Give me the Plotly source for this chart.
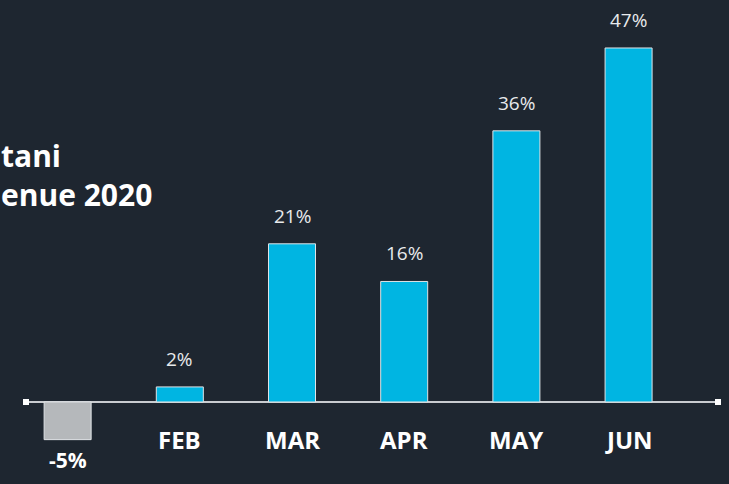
import plotly.graph_objects as go

months = ["JAN", "FEB", "MAR", "APR", "MAY", "JUN"]
growth = [-5, 2, 21, 16, 36, 47]
title_lines = ["tani", "enue 2020"]

BG = "#1e2630"
POS = "#00b5e2"
NEG = "#b5b8bb"
FONT = "Open Sans"

colors = [NEG if v < 0 else POS for v in growth]

fig = go.Figure()
fig.add_trace(go.Bar(
    x=months, y=growth,
    marker=dict(color=colors, line=dict(color="#dfe3e6", width=1)),
    hoverinfo="skip",
))

annotations = []
for m, v in zip(months, growth):
    if v >= 0:
        annotations.append(dict(x=m, y=v, xref="x", yref="y", text=f"{v}%",
                                showarrow=False, yanchor="middle", yshift=28,
                                font=dict(family=FONT, size=19, color="#e8eaec")))
        annotations.append(dict(x=m, y=0, xref="x", yref="y", text=f"<b>{m}</b>",
                                showarrow=False, yanchor="middle", yshift=-38,
                                font=dict(family=FONT, size=24, color="#ffffff")))
    else:
        annotations.append(dict(x=m, y=v, xref="x", yref="y", text=f"<b>{v}%</b>",
                                showarrow=False, yanchor="middle", yshift=-20,
                                font=dict(family=FONT, size=21, color="#ffffff")))

annotations.append(dict(
    xref="paper", yref="paper", x=-26 / 692, y=0.638, xanchor="left", yanchor="middle",
    xshift=-1, align="left", showarrow=False,
    text="<b>" + "<br>".join(title_lines) + "</b>",
    font=dict(family=FONT, size=30, color="#ffffff"),
))

shapes = []
for px in (0, 1):
    shapes.append(dict(type="rect", xref="paper", yref="y", xsizemode="pixel",
                       ysizemode="pixel", xanchor=px, yanchor=0,
                       x0=-3, x1=3, y0=-3, y1=3,
                       fillcolor="#ffffff", line=dict(width=0)))

fig.update_layout(
    width=729, height=484,
    paper_bgcolor=BG, plot_bgcolor=BG,
    margin=dict(l=26, r=11, t=0, b=0),
    bargap=0.581,
    showlegend=False,
    annotations=annotations,
    shapes=shapes,
    xaxis=dict(range=[-0.371, 5.797], showticklabels=False, showgrid=False,
               zeroline=False, showline=False, fixedrange=True),
    yaxis=dict(range=[-10.89, 53.37], showticklabels=False, showgrid=False,
               zeroline=True, zerolinecolor="#c9ccd0", zerolinewidth=2,
               showline=False, fixedrange=True),
)

fig.write_html("out.html", config={"displayModeBar": False},
               post_script="document.body.style.margin='0';document.body.style.background='#1e2630';")
